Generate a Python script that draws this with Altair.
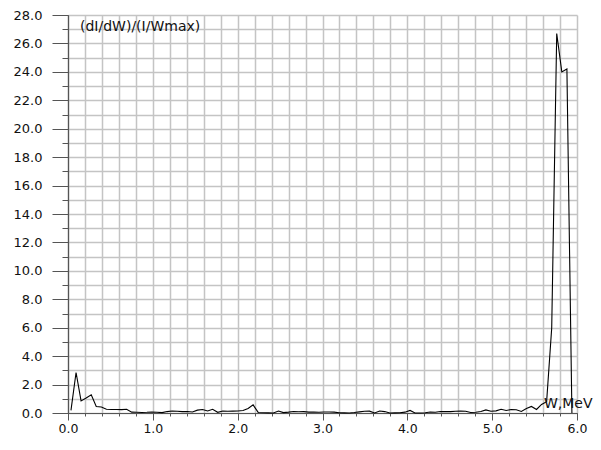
import altair as alt
import pandas as pd

# Energy W (MeV) of each sample
energy_mev = [
    0.035, 0.095, 0.154, 0.214, 0.274, 0.333, 0.393, 0.453, 0.512, 0.572,
    0.632, 0.691, 0.751, 0.810, 0.870, 0.930, 0.989, 1.049, 1.109, 1.168,
    1.228, 1.288, 1.347, 1.407, 1.467, 1.526, 1.586, 1.646, 1.705, 1.765,
    1.825, 1.884, 1.944, 2.003, 2.063, 2.123, 2.182, 2.242, 2.302, 2.361,
    2.421, 2.481, 2.540, 2.600, 2.660, 2.719, 2.779, 2.839, 2.898, 2.958,
    3.018, 3.077, 3.137, 3.196, 3.256, 3.316, 3.375, 3.435, 3.495, 3.554,
    3.614, 3.674, 3.733, 3.793, 3.853, 3.912, 3.972, 4.032, 4.091, 4.151,
    4.211, 4.270, 4.330, 4.389, 4.449, 4.509, 4.568, 4.628, 4.688, 4.747,
    4.807, 4.867, 4.926, 4.986, 5.046, 5.105, 5.165, 5.225, 5.284, 5.344,
    5.404, 5.463, 5.523, 5.582, 5.642, 5.702, 5.761, 5.821, 5.881, 5.940,
]

# (dI/dW)/(I/Wmax)
spectrum = [
    0.18, 2.85, 0.85, 1.05, 1.28, 0.46, 0.42, 0.26, 0.25, 0.25,
    0.24, 0.26, 0.06, 0.05, 0.04, 0.05, 0.07, 0.05, 0.03, 0.10,
    0.14, 0.12, 0.10, 0.11, 0.07, 0.20, 0.25, 0.14, 0.26, 0.05,
    0.14, 0.12, 0.13, 0.14, 0.18, 0.32, 0.57, 0.04, 0.02, 0.01,
    0.00, 0.14, 0.03, 0.06, 0.11, 0.09, 0.10, 0.06, 0.07, 0.05,
    0.07, 0.07, 0.06, 0.02, 0.01, 0.00, 0.03, 0.08, 0.12, 0.13,
    0.00, 0.14, 0.10, 0.00, 0.01, 0.02, 0.06, 0.18, 0.00, 0.00,
    0.02, 0.07, 0.05, 0.11, 0.10, 0.10, 0.12, 0.14, 0.12, 0.04,
    0.05, 0.10, 0.22, 0.12, 0.15, 0.26, 0.18, 0.25, 0.23, 0.11,
    0.32, 0.46, 0.25, 0.60, 0.80, 6.00, 26.70, 24.00, 24.20, 0.00,
]

x_major = [0.0, 1.0, 2.0, 3.0, 4.0, 5.0, 6.0]
x_minor = [0.0, 0.2, 0.4, 0.6, 0.8, 1.0, 1.2, 1.4, 1.6, 1.8, 2.0, 2.2, 2.4,
           2.6, 2.8, 3.0, 3.2, 3.4, 3.6, 3.8, 4.0, 4.2, 4.4, 4.6, 4.8, 5.0,
           5.2, 5.4, 5.6, 5.8, 6.0]
y_major = [0, 2, 4, 6, 8, 10, 12, 14, 16, 18, 20, 22, 24, 26, 28]
y_minor = list(range(0, 29))

y_title = "(dI/dW)/(I/Wmax)"
x_title = "W,MeV"

df = pd.DataFrame({"W": energy_mev, "v": spectrum})

FONT = "DejaVu Sans"
GRID = "#c4c4c4"
AXC = "#555555"

xscale = alt.Scale(domain=[0, 6], nice=False, zero=False)
yscale = alt.Scale(domain=[0, 28], nice=False)

grid_layer = alt.Chart(df).mark_line(opacity=0).encode(
    x=alt.X("W:Q", scale=xscale, title=None,
            axis=alt.Axis(orient="bottom", values=x_minor, labels=False,
                          tickSize=3, tickColor=AXC, grid=True,
                          gridColor=GRID, gridWidth=1.5, domain=False)),
    y=alt.Y("v:Q", scale=yscale, title=None,
            axis=alt.Axis(orient="left", values=y_minor, labels=False,
                          tickSize=6, tickColor=AXC, grid=True,
                          gridColor=GRID, gridWidth=1.5, domain=False)),
)

line_layer = alt.Chart(df).mark_line(color="black", strokeWidth=1.1).encode(
    x=alt.X("W:Q", scale=xscale, title=None,
            axis=alt.Axis(orient="bottom", values=x_major, format=".1f",
                          tickSize=7, tickColor=AXC, grid=False,
                          domainColor=AXC, domainWidth=1.2,
                          labelFont=FONT, labelFontSize=12.5,
                          labelFlush=False, labelOverlap=False,
                          labelColor="#111111", labelPadding=2)),
    y=alt.Y("v:Q", scale=yscale, title=None,
            axis=alt.Axis(orient="left", values=y_major, format=".1f",
                          tickSize=16, tickColor=AXC, grid=False,
                          domainColor=AXC, domainWidth=1.2,
                          labelFont=FONT, labelFontSize=13,
                          labelFlush=False, labelOverlap=False,
                          labelColor="#111111", labelPadding=10)),
)

ytxt = alt.Chart(pd.DataFrame({"t": [y_title]})).mark_text(
    align="left", baseline="alphabetic", font=FONT, fontSize=14, color="#111111"
).encode(x=alt.value(12), y=alt.value(16), text="t:N")

xtxt = alt.Chart(pd.DataFrame({"t": [x_title]})).mark_text(
    align="left", baseline="alphabetic", font=FONT, fontSize=14, color="#111111"
).encode(x=alt.value(476), y=alt.value(393), text="t:N")

chart = alt.layer(grid_layer, line_layer, ytxt, xtxt).resolve_axis(
    x="independent", y="independent"
).properties(
    width=509, height=398,
    autosize=alt.AutoSizeParams(type="none"),
    padding={"left": 60, "top": 7, "right": 16, "bottom": 21},
    background="white",
).configure_view(stroke=None)

chart.save("out.html", embed_options={"renderer": "svg", "actions": False})
